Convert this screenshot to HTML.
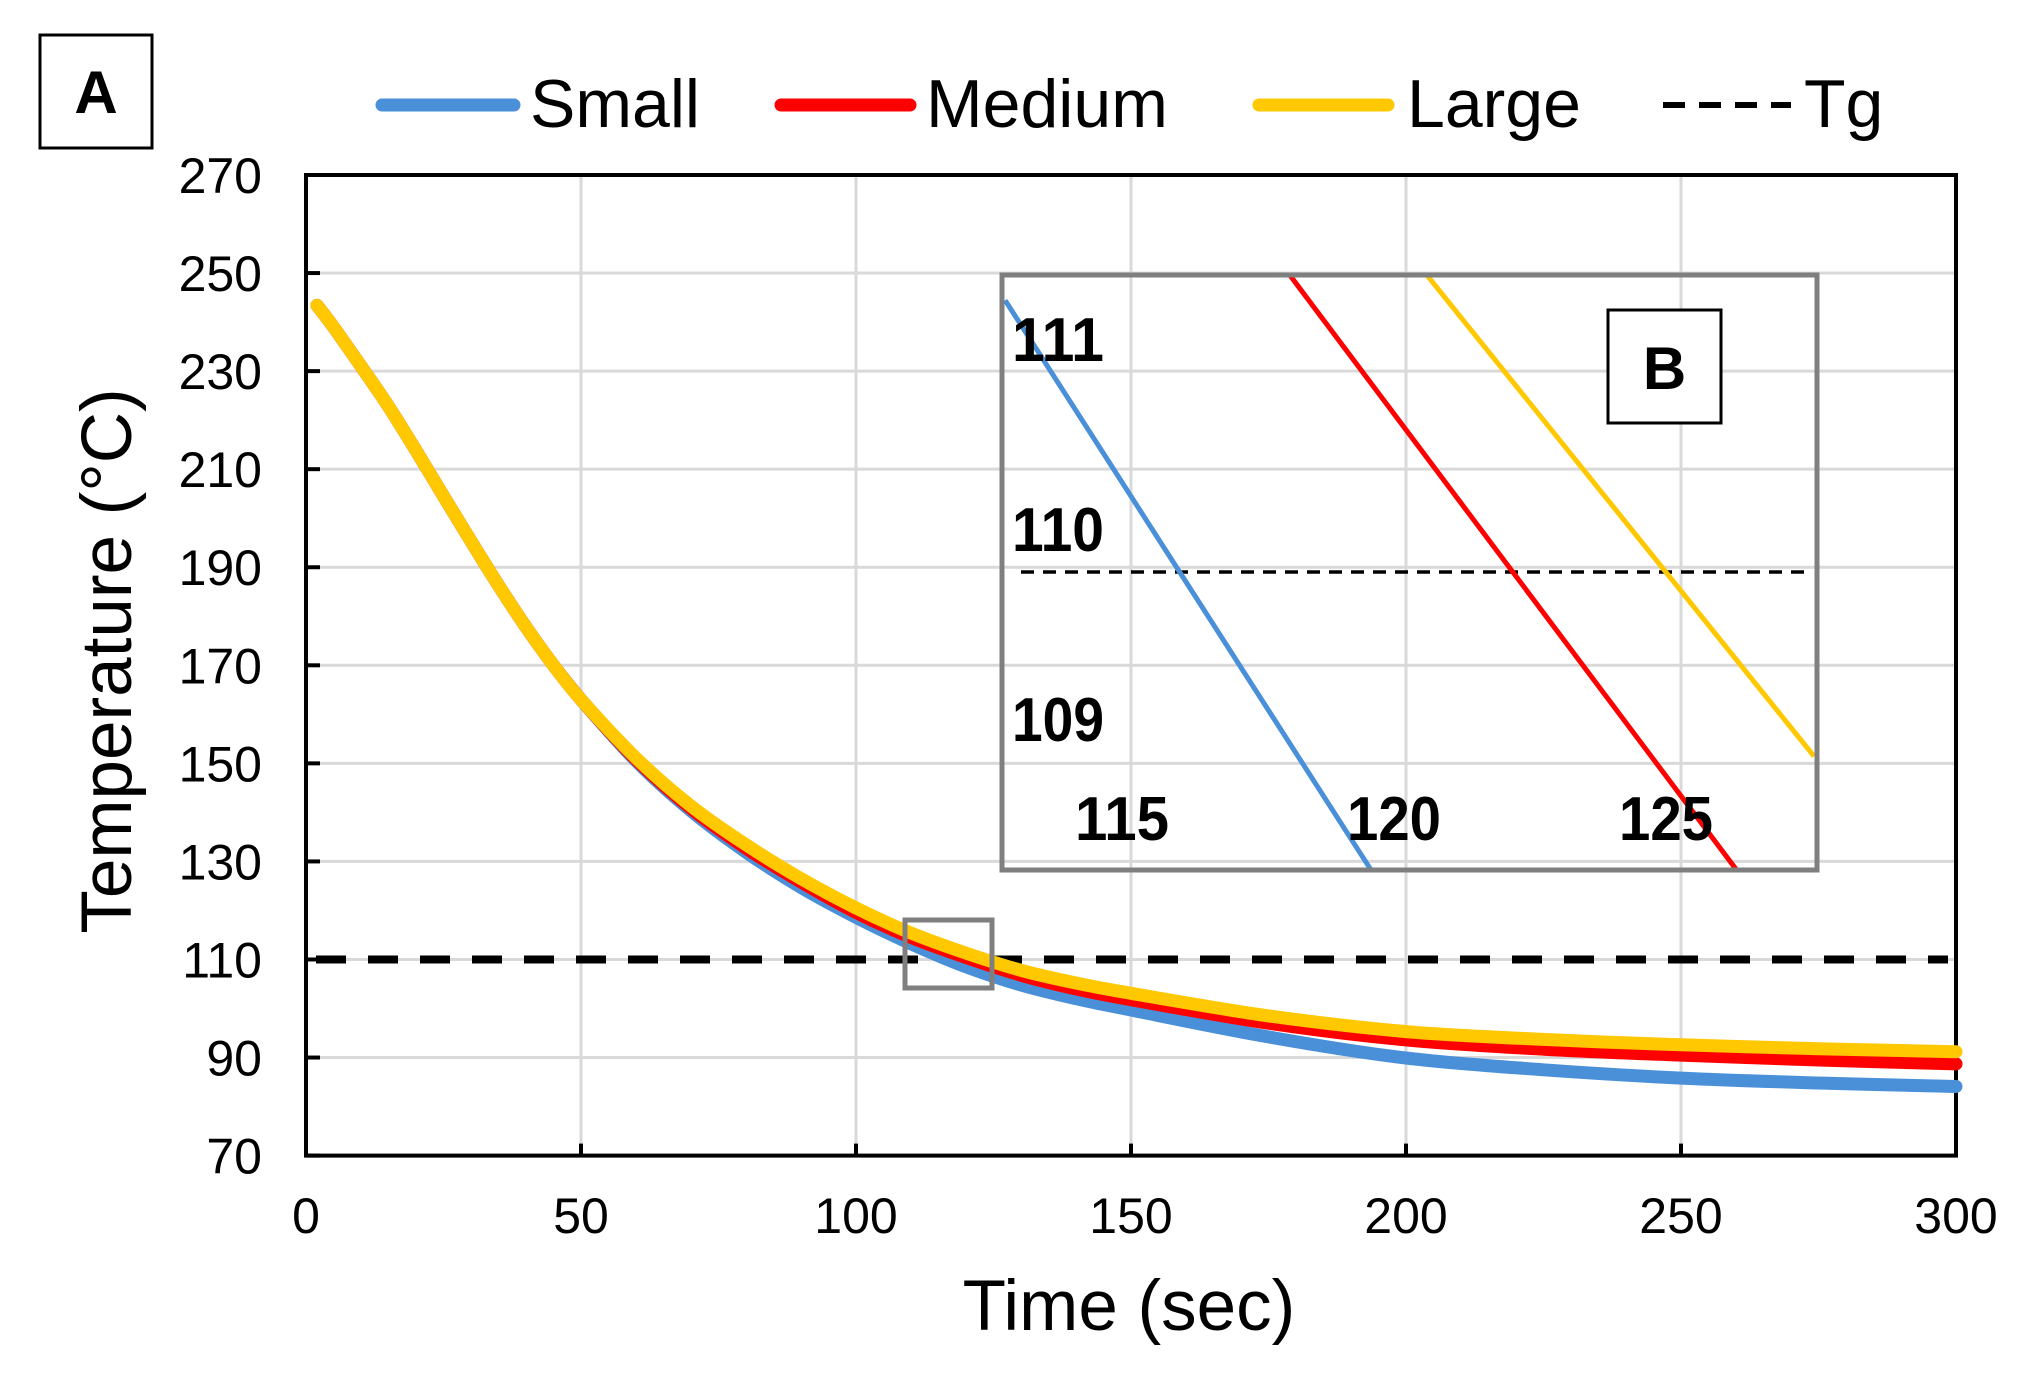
<!DOCTYPE html>
<html><head><meta charset="utf-8"><style>
html,body{margin:0;padding:0;background:#fff;}
svg{display:block;font-family:"Liberation Sans",Arial,sans-serif;}
</style></head><body>
<svg id="chart" width="2028" height="1378" viewBox="0 0 2028 1378" xmlns="http://www.w3.org/2000/svg">
<g id="grid"></g>
<g id="axes"></g>
<g id="series"></g>
<g id="inset"></g>
<g id="legend"></g>
</svg>
<script>
const times = [2,5,10,15,20,25,30,35,40,45,50,60,70,80,90,100,110,120,130,140,150,175,200,225,250,275,300];
const early = [243.4,239,231,222.8,213.8,204.5,195.3,186.3,177.8,170,163];
const smallVals = early.concat([150.5,140.3,131.9,124.7,118.6,113.2,108.5,104.8,102,99.7,94.2,89.9,87.5,85.8,84.8,84.1]);
const mediumVals = early.concat([150.8,140.8,132.7,125.8,119.6,114.5,110.4,106.8,104,101.8,97,93.6,91.7,90.5,89.5,88.7]);
const largeVals = early.concat([151.1,141.3,133.4,126.5,120.5,115.4,111.3,107.8,105.2,103.1,98.5,95.3,93.7,92.6,91.8,91.2]);
const tgValue = 110;
const yTicks = [70,90,110,130,150,170,190,210,230,250,270];
const xTicks = [0,50,100,150,200,250,300];
// inset (zoom B) data
const insetSmall = [[112.87,111.43],[119.6,108.43]];
const insetMedium = [[118.11,111.56],[126.32,108.43]];
const insetLarge = [[120.63,111.56],[127.74,109.03]];
const insetYTicks = [109,110,111];
const insetXTicks = [115,120,125];

const NS="http://www.w3.org/2000/svg";
function mk(tag,attrs,parent){const e=document.createElementNS(NS,tag);for(const k in attrs)e.setAttribute(k,attrs[k]);parent.appendChild(e);return e;}
const L=306,R=1956,T=175,B=1155.6;
const xs=t=>L+(t-0)*(R-L)/300;
const ys=v=>B-(v-70)*(B-T)/200;
const grid=document.getElementById('grid'),axes=document.getElementById('axes'),series=document.getElementById('series'),inset=document.getElementById('inset'),legend=document.getElementById('legend');

yTicks.forEach(v=>{
  if(v>70&&v<270){const g=mk('line',{x1:L,x2:R,y1:ys(v),y2:ys(v),stroke:'#d9d9d9','stroke-width':3},grid);
  
  }
  const tk=mk('line',{x1:L,x2:L+14,y1:ys(v),y2:ys(v),stroke:'#000','stroke-width':4},axes);
  
  
  const t=mk('text',{x:262,y:ys(v)+18,'text-anchor':'end','font-size':50,fill:'#000'},axes);
  t.textContent=v;
  
  
});
xTicks.forEach(v=>{
  if(v>0&&v<300){const g=mk('line',{x1:xs(v),x2:xs(v),y1:T,y2:B,stroke:'#d9d9d9','stroke-width':3},grid);
  
  }
  const tk=mk('line',{x1:xs(v),x2:xs(v),y1:B,y2:B-12,stroke:'#000','stroke-width':4},axes);
  
  
  const t=mk('text',{x:xs(v),y:1233,'text-anchor':'middle','font-size':50,fill:'#000'},axes);
  t.textContent=v;
  
  
});
const frame=mk('rect',{x:L,y:T,width:R-L,height:B-T,fill:'none',stroke:'#000','stroke-width':4},axes);


const xt=mk('text',{x:1129,y:1330,'text-anchor':'middle','font-size':71,fill:'#000'},axes);
xt.textContent='Time (sec)';


const yt=mk('text',{x:0,y:0,'text-anchor':'middle','font-size':71,fill:'#000',transform:'translate(131,661) rotate(-90)'},axes);
yt.textContent='Temperature (°C)';



// Tg line
const tg=mk('line',{x1:L+10,x2:R-8,y1:ys(tgValue),y2:ys(tgValue),stroke:'#000','stroke-width':8,'stroke-dasharray':'30 22'},series);



function path(vals,color,name){
  const P=times.map((t,i)=>[xs(t),ys(vals[i])]);
  let d='M'+P[0][0].toFixed(1)+','+P[0][1].toFixed(1);
  for(let i=0;i<P.length-1;i++){
    const p0=P[Math.max(0,i-1)],p1=P[i],p2=P[i+1],p3=P[Math.min(P.length-1,i+2)];
    const c1=[p1[0]+(p2[0]-p0[0])/6,p1[1]+(p2[1]-p0[1])/6];
    const c2=[p2[0]-(p3[0]-p1[0])/6,p2[1]-(p3[1]-p1[1])/6];
    d+=' C'+c1[0].toFixed(1)+','+c1[1].toFixed(1)+' '+c2[0].toFixed(1)+','+c2[1].toFixed(1)+' '+p2[0].toFixed(1)+','+p2[1].toFixed(1);
  }
  const p=mk('path',{d:d,fill:'none',stroke:color,'stroke-width':13,'stroke-linecap':'round','stroke-linejoin':'round'},series);
  
  
}
path(smallVals,'#4a90d9','series-small');
path(mediumVals,'#ff0000','series-medium');
path(largeVals,'#ffc800','series-large');

// zoom box
const zb=mk('rect',{x:905,y:920,width:87,height:68,fill:'none',stroke:'#7f7f7f','stroke-width':5},series);



// inset
const IL=1002,IR=1817,IT=275,IB=870;
const ix=t=>1121+(t-115)*54.4;
const iy=v=>572-(v-110)*190;
const cp=mk('clipPath',{id:'iclip'},inset);
mk('rect',{x:IL,y:IT,width:IR-IL,height:IB-IT},cp);
const ig=mk('g',{'clip-path':'url(#iclip)'},inset);
const itg=mk('line',{x1:1021,x2:1804,y1:iy(tgValue),y2:iy(tgValue),stroke:'#000','stroke-width':3.5,'stroke-dasharray':'13 9'},ig);


[[insetSmall,'#4a90d9','inset-small'],[insetMedium,'#ff0000','inset-medium'],[insetLarge,'#ffc800','inset-large']].forEach(s=>{
  const a=s[0];
  const l=mk('line',{x1:ix(a[0][0]),y1:iy(a[0][1]),x2:ix(a[1][0]),y2:iy(a[1][1]),stroke:s[1],'stroke-width':5},ig);
  
  
});
insetYTicks.forEach(v=>{
  const t=mk('text',{x:1012,y:iy(v)-44+23,'font-size':62,'font-weight':'bold',fill:'#000',textLength:92,lengthAdjust:'spacingAndGlyphs'},inset);
  t.textContent=v;
  
  
});
insetXTicks.forEach(v=>{
  const t=mk('text',{x:ix(v)-46,y:840,'font-size':62,'font-weight':'bold',fill:'#000',textLength:94,lengthAdjust:'spacingAndGlyphs'},inset);
  t.textContent=v;
  
  
});
const ifr=mk('rect',{x:IL,y:IT,width:IR-IL,height:IB-IT,fill:'none',stroke:'#7f7f7f','stroke-width':5},inset);


const bb=mk('rect',{x:1608,y:310,width:113,height:113,fill:'#fff',stroke:'#000','stroke-width':3},inset);


const bt=mk('text',{x:1664.5,y:389,'text-anchor':'middle','font-size':60,'font-weight':'bold',fill:'#000'},inset);
bt.textContent='B';



// panel A
const ab=mk('rect',{x:40,y:35,width:112,height:113,fill:'#fff',stroke:'#000','stroke-width':3},legend);


const at=mk('text',{x:96,y:113,'text-anchor':'middle','font-size':60,'font-weight':'bold',fill:'#000'},legend);
at.textContent='A';



// legend
const items=[['Small','#4a90d9',382,514,530,false],['Medium','#ff0000',781,910,926,false],['Large','#ffc800',1259,1388,1407,false],['Tg','#000',1663,1791,1804,true]];
items.forEach(it=>{
  const g=mk('g',{},legend);
  
  
  if(it[5]) mk('line',{x1:it[2],x2:it[3],y1:105,y2:105,stroke:'#000','stroke-width':6,'stroke-dasharray':'22 14'},g);
  else mk('line',{x1:it[2],x2:it[3],y1:105,y2:105,stroke:it[1],'stroke-width':13,'stroke-linecap':'round'},g);
  const t=mk('text',{x:it[4],y:127,'font-size':68,fill:'#000'},g);
  t.textContent=it[0];
});
</script>
</body></html>
